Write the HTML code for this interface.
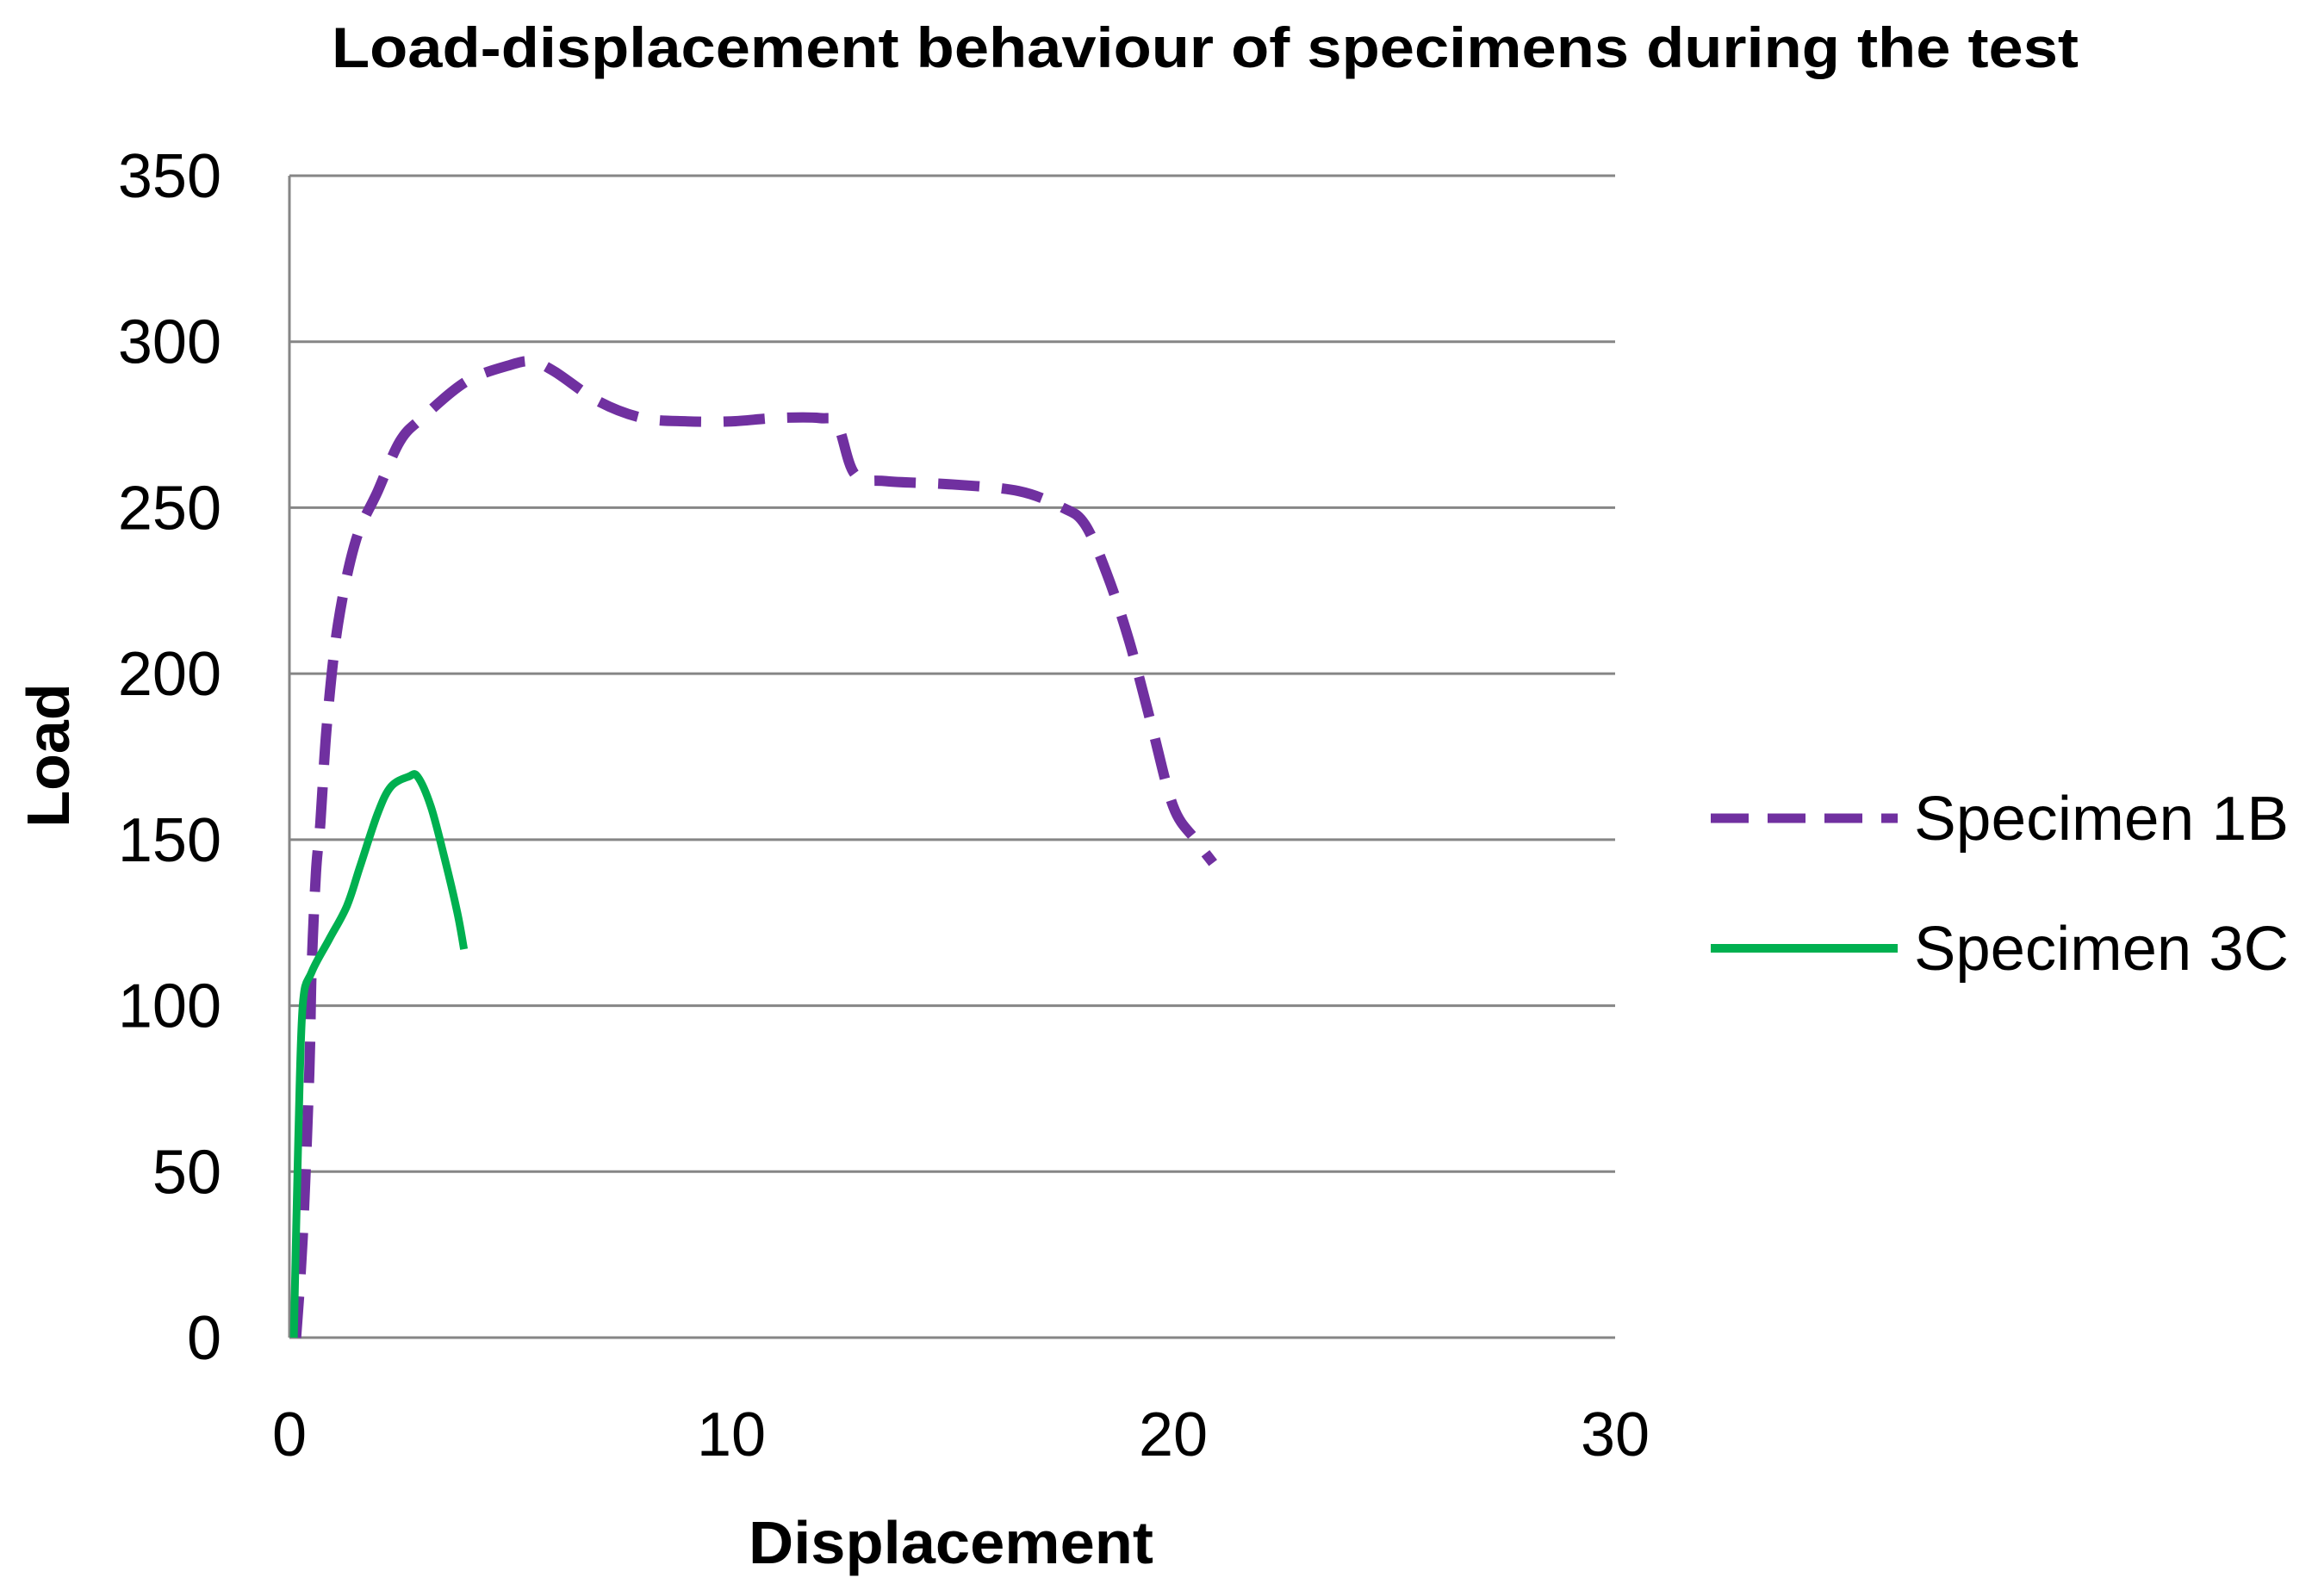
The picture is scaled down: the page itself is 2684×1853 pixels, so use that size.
<!DOCTYPE html>
<html><head><meta charset="utf-8"><style>
html,body{margin:0;padding:0;background:#fff;}
svg{display:block;font-family:"Liberation Sans",sans-serif;}
</style></head><body>
<svg id="chart" width="2684" height="1853" viewBox="0 0 2684 1853">
<text x="1399" y="78" text-anchor="middle" font-size="66" font-weight="bold" fill="#000" textLength="2028" lengthAdjust="spacingAndGlyphs">Load-displacement behaviour of specimens during the test</text>
<g id="grid"></g><g id="series"></g>
<text x="1104" y="1815" text-anchor="middle" font-size="70" font-weight="bold" textLength="470" lengthAdjust="spacingAndGlyphs">Displacement</text>
<text transform="translate(80,877) rotate(-90)" text-anchor="middle" font-size="70" font-weight="bold">Load</text>
<g>
<line x1="1986" y1="950" x2="2203" y2="950" stroke="#7030a0" stroke-width="11" stroke-dasharray="44 22"/>
<text x="2222" y="975" font-size="72" textLength="435" lengthAdjust="spacingAndGlyphs">Specimen 1B</text>
<line x1="1986" y1="1101" x2="2203" y2="1101" stroke="#00b050" stroke-width="10"/>
<text x="2222" y="1126" font-size="72" textLength="435" lengthAdjust="spacingAndGlyphs">Specimen 3C</text>
</g>
</svg>
<script>
const yTicks=[0,50,100,150,200,250,300,350];
const xTicks=[0,10,20,30];
const s1bX=[0.15,0.3,0.45,0.5,0.6,0.7,0.85,1.1,1.5,2,2.5,3,4,5,5.5,6,7,8,9,10,11,12,12.4,12.8,13.5,15,16.5,17.5,18,18.5,19,19.5,20,20.5,20.9];
const s1bY=[0,30,80,110,140,155,185,215,240,255,270,277,288,293,294,291,282,277,276,276,277,277,275,260,258,257,255,250,245,230,210,185,160,150,143];
const s3cX=[0.1,0.2,0.3,0.5,0.9,1.3,1.6,2,2.3,2.7,2.9,3.2,3.5,3.8,3.95];
const s3cY=[0,60,100,110,120,130,142,158,166,169,169,160,145,128,117];
const NS="http://www.w3.org/2000/svg";
const X0=336,X1=1875,Y0=1553,Y1=204;
const sx=v=>X0+(v-0)/30*(X1-X0);
const sy=v=>Y0-(v-0)/350*(Y0-Y1);
const grid=document.getElementById('grid');
yTicks.forEach(t=>{
 const l=document.createElementNS(NS,'line');
 l.setAttribute('x1',X0);l.setAttribute('x2',X1);l.setAttribute('y1',sy(t));l.setAttribute('y2',sy(t));
 l.setAttribute('stroke','#868686');l.setAttribute('stroke-width','3');
 
 
 grid.appendChild(l);
 const tx=document.createElementNS(NS,'text');
 tx.setAttribute('x',257);tx.setAttribute('y',sy(t)+25);tx.setAttribute('text-anchor','end');tx.setAttribute('font-size','72');
 tx.textContent=t;
 
 
 grid.appendChild(tx);
});
const ax=document.createElementNS(NS,'line');
ax.setAttribute('x1',X0);ax.setAttribute('x2',X0);ax.setAttribute('y1',Y1);ax.setAttribute('y2',Y0);
ax.setAttribute('stroke','#868686');ax.setAttribute('stroke-width','3');


grid.appendChild(ax);
xTicks.forEach(t=>{
 const tx=document.createElementNS(NS,'text');
 tx.setAttribute('x',sx(t));tx.setAttribute('y',1690);tx.setAttribute('text-anchor','middle');tx.setAttribute('font-size','72');
 tx.textContent=t;
 
 
 grid.appendChild(tx);
});
const ser=document.getElementById('series');
function smoothPath(pts){
 let d='M'+pts[0][0]+','+pts[0][1];
 for(let i=0;i<pts.length-1;i++){
  const p0=pts[Math.max(i-1,0)],p1=pts[i],p2=pts[i+1],p3=pts[Math.min(i+2,pts.length-1)];
  const c1x=p1[0]+(p2[0]-p0[0])/6,c1y=p1[1]+(p2[1]-p0[1])/6;
  const c2x=p2[0]-(p3[0]-p1[0])/6,c2y=p2[1]-(p3[1]-p1[1])/6;
  d+=' C'+c1x+','+c1y+' '+c2x+','+c2y+' '+p2[0]+','+p2[1];
 }
 return d;
}
function addLine(xs,ys,color,w,dash,name){
 const p=document.createElementNS(NS,'path');
 p.setAttribute('d',smoothPath(xs.map((x,i)=>[sx(x),sy(ys[i])])));
 p.setAttribute('fill','none');p.setAttribute('stroke',color);p.setAttribute('stroke-width',w);
 p.setAttribute('stroke-linejoin','round');
 if(dash)p.setAttribute('stroke-dasharray',dash);
 
 
 ser.appendChild(p);
}
addLine(s1bX,s1bY,'#7030a0',12,'48 26','series-specimen-1b');
addLine(s3cX,s3cY,'#00b050',9,null,'series-specimen-3c');
</script>
</body></html>
